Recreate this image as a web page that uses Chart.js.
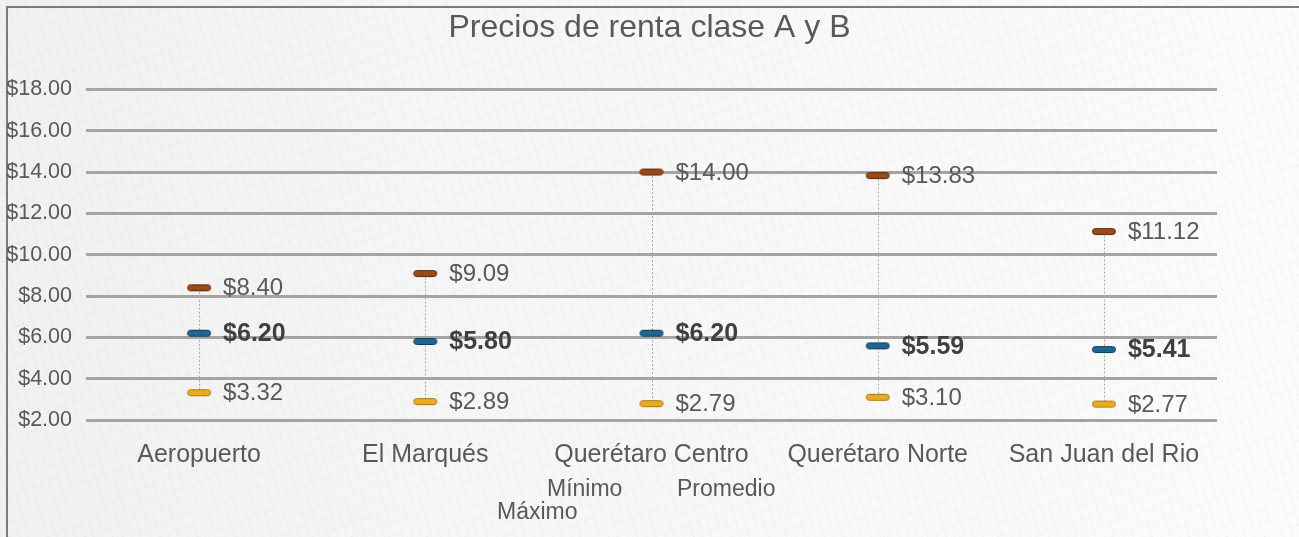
<!DOCTYPE html>
<html lang="es">
<head>
<meta charset="utf-8">
<title>Precios de renta clase A y B</title>
<script src="https://cdn.jsdelivr.net/npm/chart.js@4.4.1/dist/chart.umd.min.js"></script>
<style>
  html, body { margin: 0; padding: 0; overflow: hidden; }
  body {
    width: 1299px; height: 537px; position: relative;
    font-family: "Liberation Sans", Arial, sans-serif;
    background:
      repeating-linear-gradient(74deg, rgba(0,0,0,0.025) 0 1px, transparent 1px 9px),
      repeating-linear-gradient(160deg, rgba(0,0,0,0.018) 0 1px, transparent 1px 13px),
      linear-gradient(90deg, #f1f1f1 0%, #f7f7f7 45%, #fbfbfb 100%);
  }
  #frame {
    position: absolute; left: 6px; top: 6px; width: 1400px; height: 700px;
    border-left: 2px solid #7b7b7b; border-top: 2px solid #7b7b7b;
  }
  #chart { position: absolute; left: 0; top: 0; }
  .leg { position: absolute; font-size: 23px; color: #595959; line-height: 1; }
</style>
</head>
<body>
<div id="frame"></div>
<canvas id="chart" width="1299" height="537"></canvas>
<span class="leg" style="left:547px; top:477px;">Mínimo</span>
<span class="leg" style="left:677px; top:477px;">Promedio</span>
<span class="leg" style="left:497px; top:500px;">Máximo</span>
<script>
  // ========== DATA ==========
  const categories = ['Aeropuerto', 'El Marqués', 'Querétaro Centro', 'Querétaro Norte', 'San Juan del Rio'];
  const maximo = [8.40, 9.09, 14.00, 13.83, 11.12];
  const promedio = [6.20, 5.80, 6.20, 5.59, 5.41];
  const minimo = [3.32, 2.89, 2.79, 3.10, 2.77];
  const yTicks = [2, 4, 6, 8, 10, 12, 14, 16, 18];

  const money = v => '$' + v.toFixed(2);
  const FONT = '"Liberation Sans", Arial, sans-serif';

  // small rounded dash used as the point marker
  function dash(fill, edge) {
    const c = document.createElement('canvas');
    c.width = 26; c.height = 9;
    const g = c.getContext('2d');
    g.beginPath();
    g.roundRect(1.5, 1.5, 23, 6, 3);
    g.fillStyle = fill;
    g.fill();
    g.lineWidth = 1;
    g.strokeStyle = edge;
    g.stroke();
    return c;
  }

  // dotted high-low line between max and min of each category
  const hiLowLines = {
    id: 'hiLowLines',
    beforeDatasetsDraw(chart) {
      const ctx = chart.ctx;
      const x = chart.scales.x, y = chart.scales.y;
      ctx.save();
      ctx.strokeStyle = '#a8a8a8';
      ctx.lineWidth = 1;
      ctx.setLineDash([2, 2]);
      categories.forEach((c, i) => {
        const px = Math.round(x.getPixelForValue(i)) + 0.5;
        ctx.beginPath();
        ctx.moveTo(px, y.getPixelForValue(maximo[i]));
        ctx.lineTo(px, y.getPixelForValue(minimo[i]));
        ctx.stroke();
      });
      ctx.restore();
    }
  };

  // value labels to the right of each marker
  const valueLabels = {
    id: 'valueLabels',
    afterDatasetsDraw(chart) {
      const ctx = chart.ctx;
      ctx.save();
      ctx.textBaseline = 'middle';
      ctx.textAlign = 'left';
      chart.data.datasets.forEach((ds, di) => {
        const meta = chart.getDatasetMeta(di);
        const bold = ds.label === 'Promedio';
        ctx.font = (bold ? 'bold 25px ' : '24px ') + FONT;
        ctx.fillStyle = bold ? '#404040' : '#595959';
        meta.data.forEach((pt, i) => {
          ctx.fillText(money(ds.data[i]), pt.x + 24, pt.y + 1);
        });
      });
      ctx.restore();
    }
  };

  const ctx = document.getElementById('chart').getContext('2d');
  new Chart(ctx, {
    type: 'line',
    data: {
      labels: categories,
      datasets: [
        { label: 'Máximo', data: maximo, showLine: false, pointStyle: dash('#9a4a16', '#5e2c0c'), pointRadius: 11 },
        { label: 'Promedio', data: promedio, showLine: false, pointStyle: dash('#1f6592', '#123e5c'), pointRadius: 11 },
        { label: 'Mínimo', data: minimo, showLine: false, pointStyle: dash('#eaab22', '#a87810'), pointRadius: 11 }
      ]
    },
    options: {
      responsive: false,
      animation: false,
      layout: { padding: 0 },
      plugins: {
        legend: { display: false },
        tooltip: { enabled: false },
        title: {
          display: true,
          text: 'Precios de renta clase A y B',
          color: '#595959',
          font: { family: FONT, size: 32, weight: 'normal' },
          padding: { top: 9, bottom: 42 }
        }
      },
      scales: {
        x: {
          offset: true,
          grid: { display: false },
          border: { display: false },
          ticks: {
            color: '#595959',
            padding: 12,
            maxRotation: 0,
            autoSkip: false,
            font: { family: FONT, size: 25 }
          },
          afterFit(axis) { axis.height = 117; }
        },
        y: {
          min: 2,
          max: 18,
          border: { display: false },
          grid: { color: '#a4a4a4', lineWidth: 3, drawTicks: false },
          afterBuildTicks(axis) { axis.ticks = yTicks.map(v => ({ value: v })); },
          ticks: {
            color: '#595959',
            padding: 14,
            font: { family: FONT, size: 21.5 },
            callback: v => money(v)
          },
          afterFit(axis) { axis.width = 86; }
        },
        // empty right-hand band so the plot ends where the reference ends
        yRight: {
          position: 'right',
          min: 2,
          max: 18,
          border: { display: false },
          grid: { display: false, drawTicks: false },
          ticks: { display: false },
          afterFit(axis) { axis.width = 82; }
        }
      }
    },
    plugins: [hiLowLines, valueLabels]
  });
</script>
</body>
</html>
